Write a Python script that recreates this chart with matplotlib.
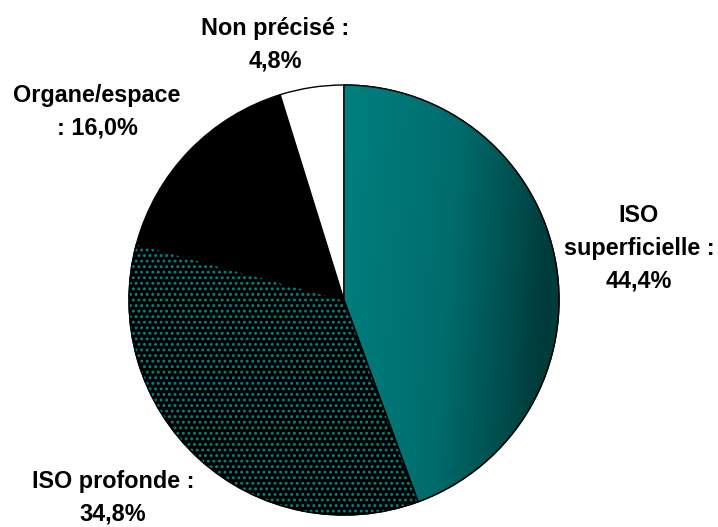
import numpy as np
import matplotlib.pyplot as plt
from matplotlib.patches import Wedge
from matplotlib.colors import LinearSegmentedColormap

# data
labels = ["ISO\nsuperficielle :\n44,4%", "ISO profonde :\n34,8%",
          "Organe/espace\n: 16,0%", "Non précisé :\n4,8%"]
values = [44.4, 34.8, 16.0, 4.8]
face_colors = ["#007a7a", "black", "black", "white"]

# label positions in pixels (x, y from top)
label_pos = [(639, 248), (113, 498), (97, 112), (275, 45)]

W, H = 718, 527
CX, CY, R = 344, 300, 215

fig = plt.figure(figsize=(W / 100, H / 100), dpi=100)
ax = fig.add_axes([0, 0, 1, 1])

wedges, _ = ax.pie(values, colors=face_colors, startangle=90, counterclock=False,
                   center=(CX, H - CY), radius=R,
                   wedgeprops=dict(edgecolor="black", linewidth=1.0))
ax.set_xlim(0, W)
ax.set_ylim(0, H)
ax.set_aspect("equal")
ax.axis("off")

# gradient fill on the first slice (light teal near centre, dark at the rim)
w0 = wedges[0]
cmap = LinearSegmentedColormap.from_list(
    "teal", [(0, "#008080"), (0.55, "#006c6c"), (0.85, "#004e4e"), (1, "#003c3c")])
gx = np.linspace(0, 1, 256)
gy = np.linspace(0, 1, 128)[:, None]
grad = np.clip(gx[None, :] + 0.15 * (1 - gy), 0, 1)
img = ax.imshow(grad, cmap=cmap, extent=(CX, CX + R, H - CY - R, H - CY + R),
                origin="lower", aspect="auto", zorder=1.5)
img.set_clip_path(w0)
outline = Wedge(w0.center, w0.r, w0.theta1, w0.theta2, facecolor="none",
                edgecolor="black", linewidth=1.0, zorder=3)
ax.add_patch(outline)

# dotted pattern on the second slice
plt.rcParams["hatch.linewidth"] = 1.3
w1 = wedges[1]
dots = Wedge(w1.center, w1.r, w1.theta1, w1.theta2, facecolor="none",
             edgecolor="#008585", hatch="...", linewidth=0, zorder=2)
ax.add_patch(dots)
edge1 = Wedge(w1.center, w1.r, w1.theta1, w1.theta2, facecolor="none",
              edgecolor="black", linewidth=1.0, zorder=3)
ax.add_patch(edge1)

for text, (x, y) in zip(labels, label_pos):
    ax.text(x, H - y, text, ha="center", va="center", fontsize=16.8,
            fontweight="bold", family="Liberation Sans", linespacing=1.55)

fig.savefig("out.png", dpi=100)
